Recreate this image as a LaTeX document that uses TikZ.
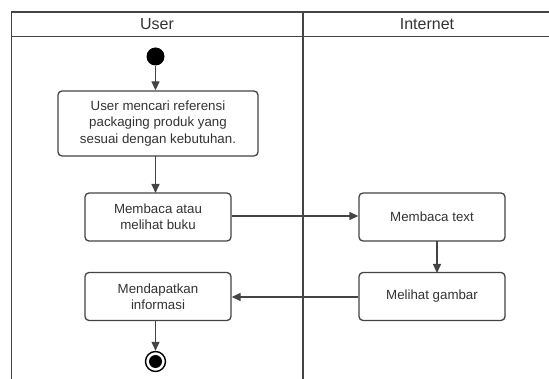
\documentclass[tikz,border=0pt]{standalone}
\usepackage{fontspec}
\setmainfont{Liberation Sans}
\usetikzlibrary{arrows.meta}
\definecolor{linec}{HTML}{444444}
\definecolor{textc}{HTML}{333333}
\tikzset{
  act/.style={draw=linec, line width=1.3pt, rounded corners=4pt, fill=white, minimum width=146pt, minimum height=48pt, align=center, font=\fontsize{13.3}{16.3}\selectfont, text=textc, inner sep=0pt},
  lane/.style={draw=linec, line width=1.1pt},
  flow/.style={draw=linec, line width=1.3pt, -{Triangle[length=9pt,width=8pt]}},
  hdr/.style={font=\fontsize{16}{18}\selectfont, text=textc}
}
\begin{document}
\begin{tikzpicture}[x=1pt,y=-1pt]
\useasboundingbox (0,0) rectangle (549,379);
% swimlanes
\draw[lane] (560,12) -- (11.5,12) -- (11.5,385);
\draw[lane] (11.5,36.5) -- (560,36.5);
\draw[lane] (303,12) -- (303,385);
\node[hdr] (hu) at (157,24.5) {User};
\node[hdr] (hi) at (427,24.5) {Internet};
% nodes
\node[circle, fill=black, minimum size=18pt, inner sep=0pt] (start) at (155.5,56.5) {};
\node[act, minimum width=200pt, minimum height=65pt] (a1) at (158,123.5) {User mencari referensi\\packaging produk yang\\sesuai dengan kebutuhan.};
\node[act] (a2) at (158,217) {Membaca atau\\melihat buku};
\node[act] (a3) at (432,217) {Membaca text};
\node[act] (a4) at (432,296.5) {Melihat gambar};
\node[act] (a5) at (158,296.5) {Mendapatkan\\informasi};
\node[circle, draw=black, line width=1.4pt, minimum size=20pt, inner sep=0pt] (end) at (155.5,361.5) {};
\node[circle, fill=black, minimum size=13pt, inner sep=0pt] (endin) at (end.center) {};
% flows
\draw[flow] (start) -- (start |- a1.north);
\draw[flow] (155.5,156) -- (155.5,193);
\draw[flow] (a2.east |- 0,216) -- (a3.west |- 0,216);
\draw[flow] (437,241) -- (437,273);
\draw[flow] (a4.west |- 0,297) -- (a5.east |- 0,297);
\draw[flow] (155.5,320) -- (end.north);
\end{tikzpicture}
\end{document}
